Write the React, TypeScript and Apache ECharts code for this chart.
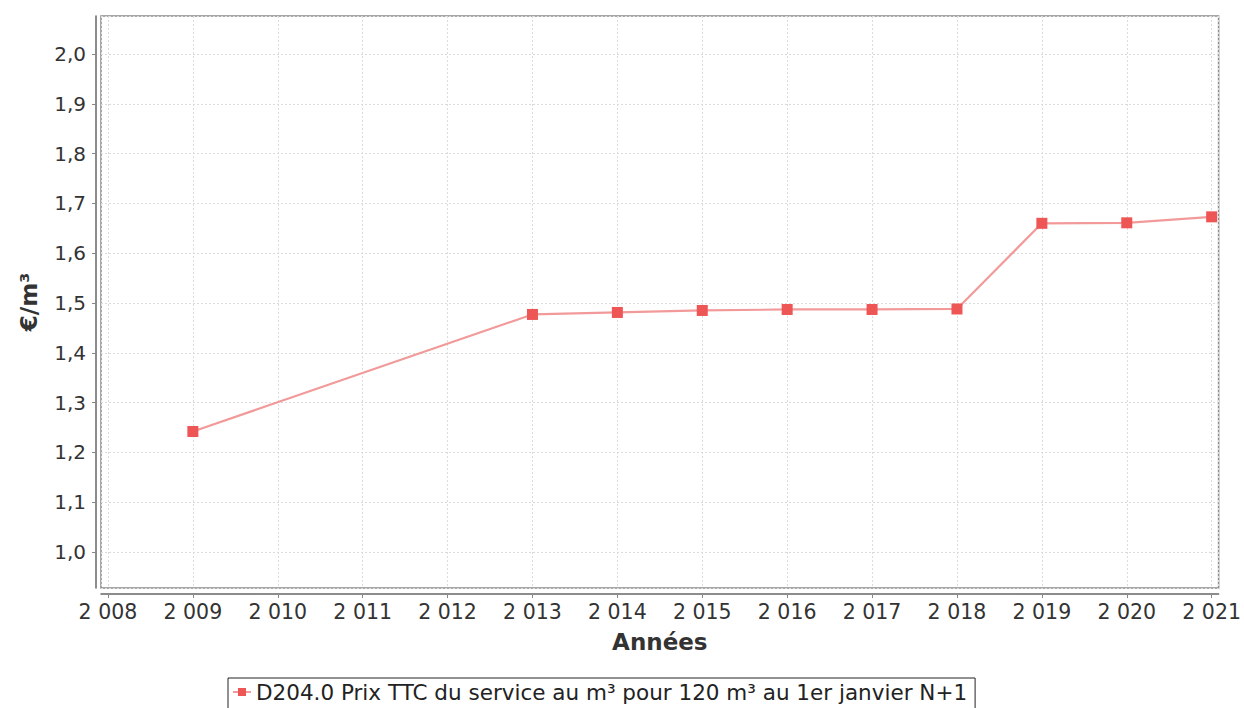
import React, { useEffect, useRef } from "react";
import * as echarts from "echarts";

const years = [2009, 2013, 2014, 2015, 2016, 2017, 2018, 2019, 2020, 2021];
const prices = [1.242, 1.477, 1.481, 1.485, 1.487, 1.487, 1.488, 1.66, 1.661, 1.673];
const seriesName = "D204.0 Prix TTC du service au m³ pour 120 m³ au 1er janvier N+1";
const xTitle = "Années";
const yTitle = "€/m³";

const FONT = "DejaVu Sans, sans-serif";

export default function App() {
  const ref = useRef<HTMLDivElement>(null);
  useEffect(() => {
    document.body.style.margin = "0";
    const chart = echarts.init(ref.current!, null, { renderer: "svg" });
    chart.setOption({
      animation: false,
      backgroundColor: "#ffffff",
      textStyle: { fontFamily: FONT },
      grid: {
        left: 101,
        top: 16,
        width: 1121,
        height: 572,
        show: true,
        borderColor: "#8a8a8a",
        borderWidth: 1.5,
        backgroundColor: "#ffffff",
      },
      legend: {
        left: 228,
        top: 678,
        padding: [3, 8, 8, 4],
        borderColor: "#222",
        borderWidth: 1,
        itemWidth: 18,
        itemHeight: 10,
        itemGap: 4,
        textStyle: { fontFamily: FONT, fontSize: 21.5, color: "#222" },
        data: [seriesName],
      },
      xAxis: {
        type: "value",
        min: 2007.918,
        max: 2021.082,
        minInterval: 1,
        maxInterval: 1,
        splitNumber: 13,
        offset: 6,
        name: xTitle,
        nameLocation: "middle",
        nameGap: 36,
        nameTextStyle: { fontFamily: FONT, fontSize: 23, fontWeight: "bold", color: "#333" },
        axisLine: { show: true, lineStyle: { color: "#666", width: 1.5 } },
        axisTick: { show: true, length: 4, lineStyle: { color: "#888" } },
        axisLabel: {
          showMinLabel: false,
          showMaxLabel: false,
          fontFamily: FONT,
          fontSize: 20.5,
          color: "#333",
          margin: 7,
          formatter: (v: number) => {
            const s = String(Math.round(v));
            return s.slice(0, s.length - 3) + " " + s.slice(s.length - 3);
          },
        },
        splitLine: { show: true, lineStyle: { color: "#dcdcdc", type: [2, 2], width: 1 } },
      },
      yAxis: {
        type: "value",
        min: 0.9277,
        max: 2.0763,
        minInterval: 0.1,
        maxInterval: 0.1,
        splitNumber: 11,
        offset: 5,
        name: yTitle,
        nameLocation: "middle",
        nameGap: 56,
        nameTextStyle: { fontFamily: FONT, fontSize: 23, fontWeight: "bold", color: "#333" },
        axisLine: { show: true, lineStyle: { color: "#666", width: 1.5 } },
        axisTick: { show: true, length: 4, lineStyle: { color: "#888" } },
        axisLabel: {
          showMinLabel: false,
          showMaxLabel: false,
          fontFamily: FONT,
          fontSize: 20,
          color: "#333",
          margin: 10,
          formatter: (v: number) => v.toFixed(1).replace(".", ","),
        },
        splitLine: { show: true, lineStyle: { color: "#dcdcdc", type: [2, 2], width: 1 } },
      },
      series: [
        {
          name: seriesName,
          type: "line",
          data: years.map((y, i) => [y, prices[i]]),
          symbol: "rect",
          symbolSize: 11,
          itemStyle: { color: "#ee5555" },
          lineStyle: { color: "#f29a9a", width: 2.2 },
        },
      ],
    });
    return () => chart.dispose();
  }, []);
  return <div ref={ref} style={{ width: 1244, height: 708 }} />;
}
